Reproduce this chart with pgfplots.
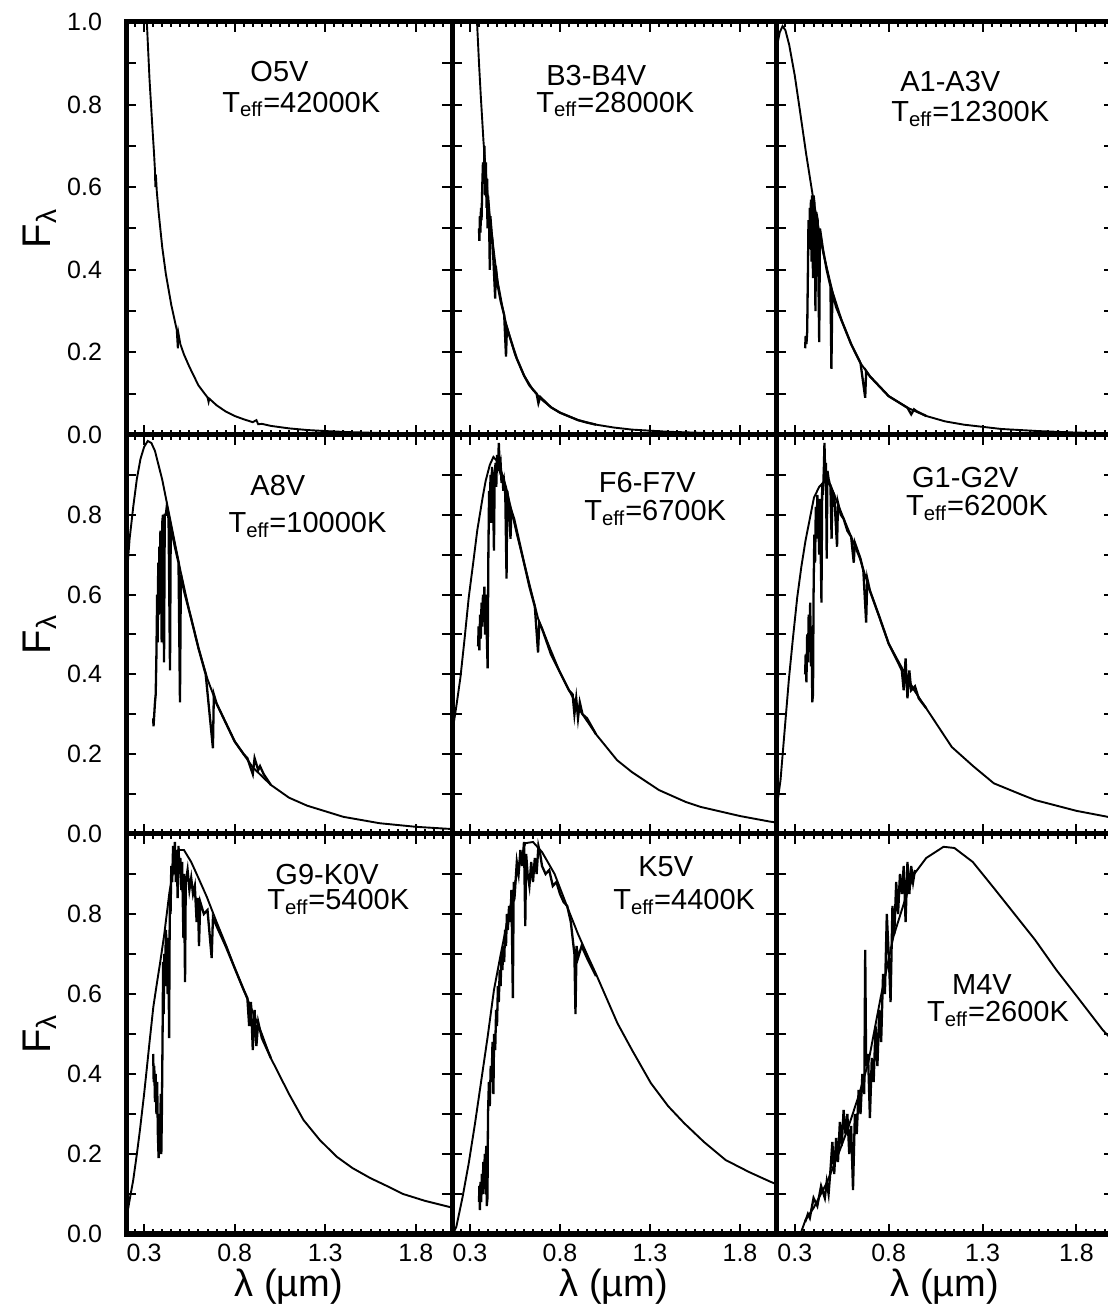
\documentclass[border=0pt]{standalone}
\usepackage{pgfplots}
\pgfplotsset{compat=1.18}
\usepackage{fontspec}
\setmainfont{Liberation Sans}

\tikzset{lab/.style={anchor=base west, inner sep=0pt, font=\fontsize{14.5}{16}\selectfont}}
\pgfplotsset{
 panel/.style={
  scale only axis,
  anchor=south west,
  xmin=0.2,xmax=2.0,ymin=0,ymax=1,
  xtick={0.3,0.8,1.3,1.8},
  minor xtick={0.2,0.25,0.3,0.35,0.4,0.45,0.5,0.55,0.6,0.65,0.7,0.75,0.8,0.85,0.9,0.95,1.0,1.05,1.1,1.15,1.2,1.25,1.3,1.35,1.4,1.45,1.5,1.55,1.6,1.65,1.7,1.75,1.8,1.85,1.9,1.95,2.0},
  ytick={0,0.1,0.2,0.3,0.4,0.5,0.6,0.7,0.8,0.9,1},
  xticklabels={}, yticklabels={},
  tick align=inside,
  major tick length=5pt, minor tick length=2.5pt,
  axis line style={line width=2.5pt},
  tick style={black, line width=1pt},
  xticklabel style={font=\fontsize{12.5}{13}\selectfont, yshift=-1.5pt},
  yticklabel style={font=\fontsize{12.5}{13}\selectfont, xshift=-8.5pt},
  xlabel style={font=\fontsize{19}{22}\selectfont, at={(axis description cs:0.5,-0.1325)}, anchor=center},
  ylabel style={font=\fontsize{20}{22}\selectfont, at={(axis description cs:-0.265,0.5)}, anchor=center},
 },
 bb/.style={black, line width=0.95pt, mark=none},
 sp/.style={black, line width=1.15pt, mark=none},
}

\begin{document}
\begin{tikzpicture}
% ---------------- Row 1 ----------------
\begin{axis}[panel, at={(63pt,434.5pt)}, width=163pt, height=206.5pt,
  yticklabels={0.0,,0.2,,0.4,,0.6,,0.8,,1.0}, ylabel={F\textsubscript{λ}}]
\addplot[bb] coordinates {(0.300,1.17) (0.315,1.00) (0.330,0.86) (0.345,0.75) (0.355,0.68) (0.360,0.64) (0.362,0.60) (0.365,0.63) (0.370,0.59) (0.380,0.54) (0.400,0.455) (0.420,0.39) (0.450,0.315) (0.480,0.255) (0.486,0.21) (0.490,0.245) (0.500,0.22) (0.520,0.195) (0.550,0.165) (0.600,0.12) (0.650,0.091) (0.656,0.08) (0.660,0.088) (0.700,0.072) (0.750,0.057) (0.800,0.046) (0.850,0.038) (0.900,0.031) (0.920,0.036) (0.930,0.026) (0.950,0.027) (1.000,0.022) (1.100,0.016) (1.200,0.012) (1.300,0.0095) (1.400,0.0075) (1.500,0.006) (1.600,0.0049) (1.700,0.004) (1.800,0.0033) (1.900,0.0028) (2.000,0.0024)};
\node[lab] at (axis cs:0.885,0.855) {O5V};
\node[lab] at (axis cs:0.730,0.782) {T\textsubscript{eff}=42000K};
\end{axis}

\begin{axis}[panel, at={(226pt,434.5pt)}, width=162pt, height=206.5pt]
\addplot[bb] coordinates {(0.330,1.10) (0.339,1.00) (0.350,0.90) (0.360,0.82) (0.375,0.71) (0.400,0.57) (0.420,0.49) (0.450,0.38) (0.480,0.31) (0.500,0.27) (0.550,0.195) (0.600,0.144) (0.650,0.109) (0.700,0.085) (0.750,0.067) (0.800,0.054) (0.900,0.036) (1.000,0.025) (1.100,0.018) (1.200,0.013) (1.400,0.0078) (1.600,0.005) (1.800,0.0035) (2.000,0.0024)};
\addplot[sp] coordinates {(0.350,0.50) (0.352,0.47) (0.355,0.53) (0.358,0.49) (0.361,0.55) (0.364,0.52) (0.368,0.60) (0.372,0.66) (0.377,0.62) (0.380,0.70) (0.384,0.58) (0.388,0.66) (0.392,0.55) (0.395,0.62) (0.397,0.50) (0.400,0.58) (0.405,0.55) (0.410,0.40) (0.413,0.53) (0.420,0.49) (0.425,0.47) (0.440,0.33) (0.443,0.41) (0.455,0.36) (0.470,0.325) (0.490,0.29) (0.500,0.19) (0.505,0.26) (0.530,0.225) (0.560,0.185) (0.600,0.144) (0.630,0.12) (0.670,0.10) (0.680,0.077) (0.690,0.092) (0.750,0.067) (0.800,0.054) (0.850,0.045) (0.900,0.036) (0.950,0.030) (1.000,0.025)};
\node[lab] at (axis cs:0.722,0.847) {B3-B4V};
\node[lab] at (axis cs:0.667,0.782) {T\textsubscript{eff}=28000K};
\end{axis}

\begin{axis}[panel, at={(388pt,434.5pt)}, width=169pt, height=206.5pt]
\addplot[bb] coordinates {(0.200,0.93) (0.220,0.975) (0.235,0.99) (0.250,0.98) (0.270,0.945) (0.300,0.87) (0.330,0.777) (0.360,0.682) (0.400,0.567) (0.450,0.444) (0.500,0.348) (0.550,0.277) (0.600,0.22) (0.650,0.174) (0.700,0.142) (0.800,0.094) (0.900,0.066) (1.000,0.046) (1.100,0.033) (1.200,0.025) (1.400,0.0145) (1.600,0.0094) (1.800,0.0058) (2.000,0.0041)};
\addplot[sp] coordinates {(0.355,0.21) (0.358,0.24) (0.362,0.22) (0.366,0.25) (0.370,0.40) (0.373,0.52) (0.377,0.45) (0.380,0.55) (0.383,0.47) (0.386,0.57) (0.389,0.42) (0.392,0.58) (0.397,0.38) (0.400,0.58) (0.405,0.56) (0.410,0.30) (0.414,0.54) (0.422,0.52) (0.430,0.225) (0.434,0.50) (0.450,0.45) (0.470,0.40) (0.490,0.36) (0.495,0.16) (0.500,0.345) (0.520,0.31) (0.560,0.265) (0.600,0.22) (0.650,0.174) (0.675,0.09) (0.680,0.155) (0.700,0.142) (0.800,0.094) (0.900,0.066) (0.920,0.05) (0.935,0.062) (0.950,0.057) (1.000,0.046)};
\node[lab] at (axis cs:0.860,0.831) {A1-A3V};
\node[lab] at (axis cs:0.812,0.758) {T\textsubscript{eff}=12300K};
\end{axis}

% ---------------- Row 2 ----------------
\begin{axis}[panel, at={(63pt,235pt)}, width=163pt, height=199.5pt,
  yticklabels={0.0,,0.2,,0.4,,0.6,,0.8,,}, ylabel={F\textsubscript{λ}}]
\addplot[bb] coordinates {(0.200,0.62) (0.220,0.74) (0.240,0.82) (0.260,0.89) (0.280,0.94) (0.300,0.97) (0.320,0.985) (0.340,0.98) (0.360,0.96) (0.400,0.888) (0.450,0.775) (0.500,0.661) (0.550,0.558) (0.600,0.466) (0.650,0.388) (0.700,0.327) (0.800,0.232) (0.900,0.167) (1.000,0.123) (1.100,0.091) (1.200,0.071) (1.400,0.043) (1.600,0.027) (1.800,0.018) (2.000,0.0124)};
\addplot[sp] coordinates {(0.350,0.29) (0.352,0.27) (0.356,0.30) (0.360,0.33) (0.364,0.35) (0.368,0.45) (0.372,0.60) (0.375,0.48) (0.378,0.68) (0.381,0.55) (0.384,0.72) (0.387,0.58) (0.390,0.76) (0.394,0.62) (0.397,0.48) (0.400,0.78) (0.404,0.80) (0.410,0.43) (0.414,0.80) (0.420,0.80) (0.425,0.82) (0.435,0.79) (0.443,0.41) (0.447,0.77) (0.470,0.72) (0.490,0.68) (0.498,0.33) (0.503,0.65) (0.520,0.61) (0.560,0.54) (0.600,0.466) (0.640,0.40) (0.680,0.215) (0.685,0.35) (0.700,0.327) (0.800,0.232) (0.850,0.20) (0.870,0.19) (0.900,0.15) (0.910,0.19) (0.930,0.16) (0.940,0.17) (0.960,0.15) (1.000,0.123)};
\node[lab] at (axis cs:0.885,0.8475) {A8V};
\node[lab] at (axis cs:0.764,0.755) {T\textsubscript{eff}=10000K};
\end{axis}

\begin{axis}[panel, at={(226pt,235pt)}, width=162pt, height=199.5pt]
\addplot[bb] coordinates {(0.200,0.25) (0.224,0.32) (0.247,0.393) (0.270,0.49) (0.293,0.593) (0.317,0.677) (0.340,0.76) (0.370,0.843) (0.387,0.885) (0.410,0.925) (0.430,0.945) (0.460,0.93) (0.500,0.87) (0.561,0.75) (0.600,0.68) (0.678,0.54) (0.740,0.47) (0.795,0.41) (0.850,0.36) (0.910,0.31) (1.000,0.25) (1.117,0.185) (1.200,0.155) (1.350,0.11) (1.500,0.08) (1.580,0.068) (1.800,0.045) (1.967,0.031) (2.000,0.029)};
\addplot[sp] coordinates {(0.345,0.47) (0.348,0.52) (0.352,0.46) (0.356,0.55) (0.360,0.49) (0.364,0.58) (0.368,0.52) (0.372,0.60) (0.376,0.55) (0.380,0.62) (0.384,0.50) (0.388,0.60) (0.392,0.52) (0.398,0.415) (0.402,0.70) (0.406,0.86) (0.410,0.80) (0.414,0.90) (0.418,0.78) (0.422,0.92) (0.426,0.88) (0.430,0.80) (0.433,0.71) (0.437,0.90) (0.442,0.93) (0.446,0.87) (0.450,0.95) (0.455,0.91) (0.460,0.98) (0.465,0.92) (0.470,0.93) (0.475,0.88) (0.480,0.90) (0.485,0.86) (0.490,0.88) (0.496,0.85) (0.503,0.64) (0.507,0.86) (0.515,0.83) (0.525,0.74) (0.530,0.81) (0.545,0.79) (0.560,0.76) (0.580,0.72) (0.600,0.68) (0.630,0.62) (0.660,0.57) (0.678,0.455) (0.685,0.53) (0.700,0.515) (0.750,0.45) (0.800,0.405) (0.850,0.36) (0.870,0.35) (0.880,0.30) (0.890,0.34) (0.900,0.29) (0.910,0.33) (0.925,0.30) (0.950,0.29) (1.000,0.25)};
\node[lab] at (axis cs:1.014,0.855) {F6-F7V};
\node[lab] at (axis cs:0.933,0.785) {T\textsubscript{eff}=6700K};
\end{axis}

\begin{axis}[panel, at={(388pt,235pt)}, width=169pt, height=199.5pt]
\addplot[bb] coordinates {(0.205,0.07) (0.224,0.135) (0.246,0.26) (0.269,0.39) (0.290,0.49) (0.313,0.593) (0.335,0.67) (0.357,0.735) (0.380,0.79) (0.402,0.843) (0.430,0.87) (0.460,0.885) (0.490,0.875) (0.535,0.82) (0.600,0.745) (0.647,0.69) (0.700,0.61) (0.800,0.477) (0.936,0.36) (1.000,0.315) (1.136,0.218) (1.250,0.17) (1.360,0.127) (1.500,0.10) (1.580,0.085) (1.800,0.058) (2.000,0.04)};
\addplot[sp] coordinates {(0.355,0.40) (0.358,0.45) (0.362,0.38) (0.366,0.50) (0.370,0.43) (0.374,0.55) (0.378,0.47) (0.382,0.58) (0.386,0.42) (0.390,0.52) (0.393,0.33) (0.397,0.35) (0.400,0.60) (0.404,0.75) (0.408,0.68) (0.412,0.82) (0.416,0.74) (0.420,0.85) (0.425,0.80) (0.430,0.70) (0.434,0.84) (0.442,0.58) (0.446,0.88) (0.450,0.85) (0.455,0.92) (0.458,0.98) (0.462,0.90) (0.466,0.93) (0.470,0.69) (0.474,0.91) (0.480,0.89) (0.490,0.87) (0.496,0.74) (0.500,0.86) (0.510,0.85) (0.525,0.72) (0.530,0.83) (0.545,0.80) (0.560,0.79) (0.580,0.76) (0.600,0.745) (0.614,0.68) (0.620,0.73) (0.650,0.69) (0.665,0.66) (0.680,0.53) (0.686,0.64) (0.700,0.61) (0.750,0.545) (0.800,0.477) (0.850,0.43) (0.870,0.41) (0.880,0.36) (0.890,0.44) (0.900,0.34) (0.910,0.41) (0.920,0.36) (0.940,0.37) (0.960,0.34) (1.000,0.315)};
\node[lab] at (axis cs:0.923,0.8675) {G1-G2V};
\node[lab] at (axis cs:0.891,0.7975) {T\textsubscript{eff}=6200K};
\end{axis}

% ---------------- Row 3 ----------------
\begin{axis}[panel, at={(63pt,35pt)}, width=163pt, height=200pt,
  yticklabels={0.0,,0.2,,0.4,,0.6,,0.8,,}, ylabel={F\textsubscript{λ}},
  xticklabels={0.3,0.8,1.3,1.8}, xlabel={λ (µm)}]
\addplot[bb] coordinates {(0.204,0.043) (0.220,0.085) (0.240,0.135) (0.260,0.20) (0.277,0.26) (0.300,0.35) (0.314,0.41) (0.330,0.48) (0.351,0.568) (0.370,0.625) (0.388,0.677) (0.410,0.745) (0.425,0.80) (0.440,0.855) (0.461,0.91) (0.489,0.96) (0.520,0.96) (0.560,0.93) (0.600,0.89) (0.646,0.843) (0.700,0.78) (0.756,0.718) (0.800,0.665) (0.850,0.61) (0.903,0.552) (0.950,0.50) (0.996,0.443) (1.100,0.35) (1.180,0.285) (1.270,0.235) (1.364,0.193) (1.450,0.165) (1.548,0.14) (1.650,0.118) (1.730,0.10) (1.850,0.083) (2.000,0.066)};
\addplot[sp] coordinates {(0.350,0.45) (0.353,0.38) (0.356,0.42) (0.360,0.33) (0.364,0.40) (0.368,0.30) (0.372,0.38) (0.376,0.25) (0.380,0.19) (0.384,0.30) (0.388,0.22) (0.392,0.35) (0.395,0.20) (0.398,0.30) (0.402,0.50) (0.405,0.68) (0.408,0.55) (0.412,0.70) (0.416,0.62) (0.420,0.76) (0.425,0.72) (0.430,0.60) (0.434,0.74) (0.438,0.49) (0.442,0.85) (0.446,0.80) (0.450,0.92) (0.455,0.88) (0.460,0.97) (0.465,0.90) (0.470,0.98) (0.475,0.88) (0.480,0.96) (0.485,0.84) (0.490,0.97) (0.495,0.90) (0.500,0.94) (0.505,0.86) (0.510,0.93) (0.517,0.74) (0.520,0.90) (0.526,0.63) (0.530,0.88) (0.540,0.91) (0.550,0.86) (0.560,0.89) (0.570,0.85) (0.580,0.87) (0.590,0.78) (0.597,0.84) (0.603,0.72) (0.610,0.83) (0.630,0.80) (0.650,0.81) (0.673,0.69) (0.680,0.79) (0.700,0.77) (0.750,0.72) (0.800,0.665) (0.850,0.61) (0.870,0.59) (0.880,0.52) (0.890,0.58) (0.900,0.46) (0.910,0.56) (0.920,0.47) (0.930,0.53) (0.950,0.49) (1.000,0.44)};
\node[lab] at (axis cs:1.023,0.8725) {G9-K0V};
\node[lab] at (axis cs:0.979,0.81) {T\textsubscript{eff}=5400K};
\end{axis}

\begin{axis}[panel, at={(226pt,35pt)}, width=162pt, height=200pt,
  xticklabels={0.3,0.8,1.3,1.8}, xlabel={λ (µm)}]
\addplot[bb] coordinates {(0.205,0.0) (0.224,0.018) (0.259,0.093) (0.293,0.177) (0.328,0.277) (0.363,0.385) (0.398,0.493) (0.433,0.61) (0.468,0.693) (0.515,0.80) (0.561,0.90) (0.607,0.977) (0.650,0.98) (0.700,0.955) (0.770,0.90) (0.840,0.818) (0.900,0.75) (0.956,0.693) (1.000,0.65) (1.119,0.527) (1.200,0.46) (1.305,0.377) (1.400,0.32) (1.490,0.277) (1.600,0.23) (1.720,0.185) (1.850,0.155) (1.967,0.131) (2.000,0.125)};
\addplot[sp] coordinates {(0.350,0.08) (0.352,0.12) (0.355,0.06) (0.358,0.13) (0.362,0.08) (0.366,0.15) (0.370,0.10) (0.374,0.18) (0.378,0.12) (0.382,0.20) (0.386,0.10) (0.390,0.22) (0.393,0.07) (0.397,0.09) (0.400,0.30) (0.405,0.38) (0.410,0.32) (0.415,0.42) (0.420,0.38) (0.425,0.48) (0.430,0.35) (0.434,0.50) (0.440,0.46) (0.445,0.56) (0.450,0.52) (0.455,0.62) (0.460,0.58) (0.465,0.66) (0.470,0.62) (0.475,0.70) (0.480,0.66) (0.485,0.72) (0.490,0.68) (0.495,0.76) (0.500,0.72) (0.505,0.80) (0.510,0.76) (0.517,0.82) (0.525,0.78) (0.530,0.86) (0.538,0.59) (0.543,0.88) (0.550,0.86) (0.560,0.93) (0.570,0.90) (0.580,0.96) (0.590,0.92) (0.600,0.98) (0.607,0.77) (0.612,0.95) (0.620,0.90) (0.630,0.87) (0.640,0.93) (0.650,0.88) (0.660,0.94) (0.670,0.90) (0.680,0.97) (0.690,0.95) (0.700,0.92) (0.720,0.90) (0.740,0.91) (0.760,0.87) (0.780,0.88) (0.800,0.85) (0.820,0.83) (0.840,0.82) (0.860,0.78) (0.870,0.74) (0.880,0.70) (0.886,0.55) (0.892,0.72) (0.900,0.69) (0.920,0.72) (0.950,0.69) (1.000,0.645)};
\node[lab] at (axis cs:1.233,0.8925) {K5V};
\node[lab] at (axis cs:1.094,0.81) {T\textsubscript{eff}=4400K};
\end{axis}

\begin{axis}[panel, at={(388pt,35pt)}, width=169pt, height=200pt,
  xticklabels={0.3,0.8,1.3,1.8}, xlabel={λ (µm)}]
\addplot[bb] coordinates {(0.330,0.0) (0.357,0.035) (0.400,0.065) (0.469,0.127) (0.520,0.185) (0.580,0.26) (0.640,0.345) (0.691,0.427) (0.758,0.593) (0.825,0.743) (0.892,0.843) (0.936,0.90) (1.000,0.94) (1.092,0.968) (1.150,0.965) (1.248,0.93) (1.360,0.865) (1.470,0.80) (1.580,0.735) (1.693,0.66) (1.804,0.593) (1.940,0.51) (2.000,0.48)};
\addplot[sp] coordinates {(0.355,0.03) (0.370,0.05) (0.380,0.04) (0.400,0.09) (0.420,0.07) (0.440,0.12) (0.460,0.09) (0.470,0.13) (0.480,0.10) (0.490,0.16) (0.500,0.23) (0.510,0.15) (0.520,0.24) (0.530,0.18) (0.540,0.28) (0.550,0.22) (0.560,0.31) (0.570,0.25) (0.580,0.30) (0.590,0.20) (0.600,0.27) (0.610,0.11) (0.620,0.30) (0.630,0.25) (0.640,0.36) (0.650,0.30) (0.660,0.40) (0.670,0.35) (0.675,0.71) (0.680,0.42) (0.690,0.45) (0.700,0.29) (0.710,0.44) (0.720,0.38) (0.730,0.52) (0.740,0.42) (0.750,0.56) (0.760,0.48) (0.770,0.65) (0.780,0.60) (0.790,0.80) (0.800,0.70) (0.810,0.58) (0.820,0.82) (0.830,0.75) (0.840,0.88) (0.850,0.80) (0.860,0.90) (0.870,0.85) (0.880,0.92) (0.890,0.78) (0.900,0.93) (0.910,0.85) (0.920,0.92) (0.930,0.88) (0.940,0.91)};
\node[lab] at (axis cs:1.136,0.5975) {M4V};
\node[lab] at (axis cs:1.003,0.53) {T\textsubscript{eff}=2600K};
\end{axis}

\pgfresetboundingbox
\path[use as bounding box] (0pt,0pt) rectangle (553.5pt,652pt);
\end{tikzpicture}
\end{document}
